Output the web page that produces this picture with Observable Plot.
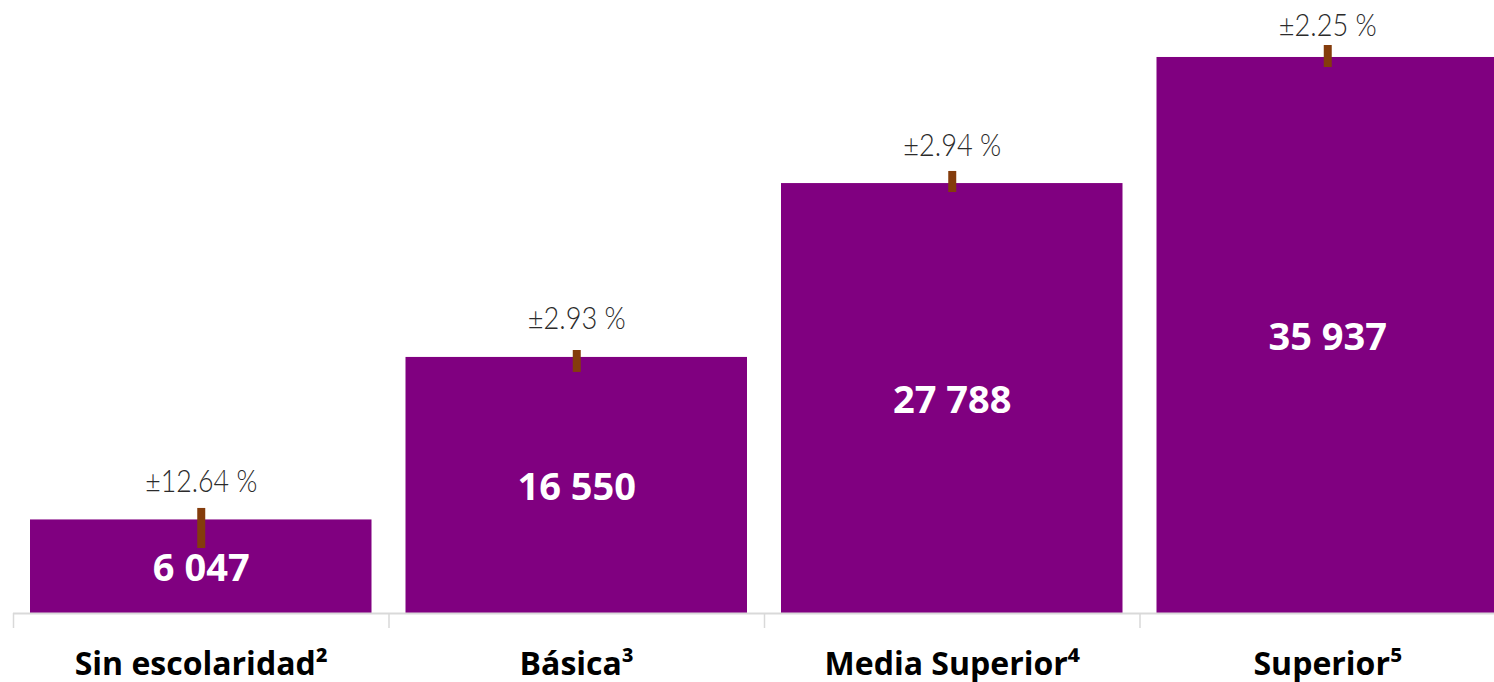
<!DOCTYPE html>
<html>
<head>
<meta charset="utf-8">
<script src="https://cdn.jsdelivr.net/npm/d3@7"></script>
<script src="https://cdn.jsdelivr.net/npm/@observablehq/plot@0.6"></script>
<style>
  html, body { margin: 0; padding: 0; background: #fff; overflow: hidden; }
  #chart { width: 1494px; height: 682px; overflow: hidden; }
  #chart svg { display: block; max-width: none !important; }
</style>
</head>
<body>
<div id="chart"></div>
<script>
const categories = ["Sin escolaridad²", "Básica³", "Media Superior⁴", "Superior⁵"];
const values = [6047, 16550, 27788, 35937];
const moeLabels = ["±12.64 %", "±2.93 %", "±2.94 %", "±2.25 %"];
const errLow = [4200, 15580, 27210, 35290];
const errHigh = [6790, 17000, 28570, 36710];
const valueLabels = ["6 047", "16 550", "27 788", "35 937"];

const data = categories.map((c, i) => ({
  i, cat: c, value: values[i], moe: moeLabels[i],
  lo: errLow[i], hi: errHigh[i], vlabel: valueLabels[i]
}));
const boundaries = d3.range(categories.length + 1);
const yMax = 36000;

const chart = Plot.plot({
  width: 1530,
  height: 682,
  marginLeft: 13,
  marginRight: 15,
  marginTop: 56,
  marginBottom: 69,
  style: { maxWidth: "none" },
  x: { type: "linear", domain: [0, categories.length], axis: null },
  y: { domain: [0, yMax], axis: null },
  marks: [
    Plot.rectY(data, {
      x1: d => d.i, x2: d => d.i + 1, y1: 0, y2: "value",
      fill: "#800080", insetLeft: 17, insetRight: 17
    }),
    Plot.ruleY([0], { stroke: "#d9d9d9", strokeWidth: 2 }),
    Plot.ruleX(boundaries, { x: d => d, y1: 0, y2: -970, stroke: "#d9d9d9", strokeWidth: 1.5 }),
    Plot.ruleX(data, {
      x: d => d.i + 0.5, y1: "lo", y2: "hi",
      stroke: "#843C0C", strokeWidth: 8
    }),
    Plot.text(data, {
      // keep the top label inside the picture, as in the original
      x: d => d.i + 0.5, y: d => Math.min(d.value, yMax * 0.987), text: "moe",
      lineAnchor: "bottom", dy: -28,
      fontFamily: "Lato, sans-serif", fontWeight: 300,
      fontSize: 31, fill: "#2b2b2b"
    }),
    Plot.text(data, {
      x: d => d.i + 0.5, y: d => d.value / 2, text: "vlabel",
      lineAnchor: "middle", dy: 2,
      fontFamily: "'Open Sans', sans-serif", fontWeight: "bold",
      fontSize: 38, fill: "#ffffff"
    }),
    Plot.text(data, {
      x: d => d.i + 0.5, y: 0, text: "cat",
      lineAnchor: "bottom", dy: 61,
      fontFamily: "'Open Sans', sans-serif", fontWeight: "bold",
      fontSize: 32, fill: "#000000"
    })
  ]
});
// condense the margin-of-error labels to match the narrow face of the original
d3.select(chart).selectAll("g[font-size='31'] text")
  .attr("textLength", (d, k, nodes) => nodes[k].textContent.length >= 8 ? 112 : 98)
  .attr("lengthAdjust", "spacingAndGlyphs");
document.getElementById("chart").appendChild(chart);
</script>
</body>
</html>
